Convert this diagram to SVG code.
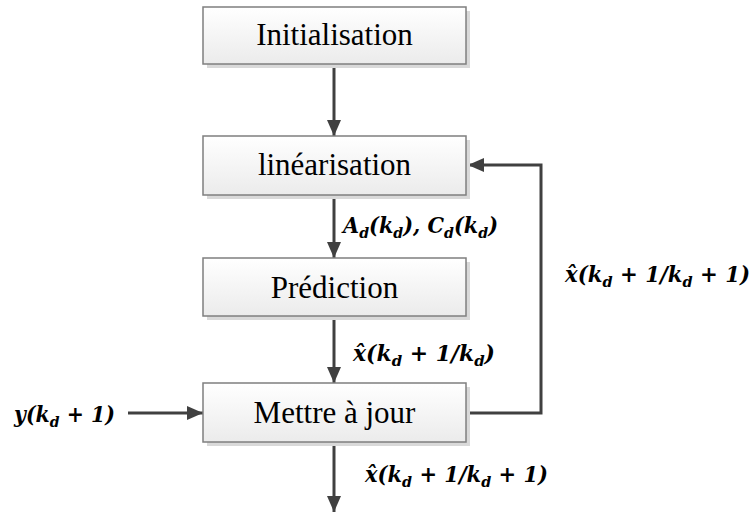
<svg xmlns="http://www.w3.org/2000/svg" width="754" height="516" viewBox="0 0 754 516">
  <defs>
    <linearGradient id="boxFill" x1="0" y1="0" x2="0" y2="1">
      <stop offset="0" stop-color="#ffffff"/>
      <stop offset="1" stop-color="#ebebeb"/>
    </linearGradient>
    <marker id="arrow" viewBox="0 0 16 14" refX="16" refY="7" markerWidth="16" markerHeight="14" markerUnits="userSpaceOnUse" orient="auto">
      <path d="M0,0 L16,7 L0,14 Z" fill="#404040"/>
    </marker>
  </defs>
  <style>
    .shadow { fill: #d9d9d9; }
    .box { fill: url(#boxFill); stroke: #7f7f7f; stroke-width: 1.5; }
    .label { font-family: "Liberation Serif", serif; font-size: 31px; fill: #000; text-anchor: middle; }
    .math { font-family: "DejaVu Serif", serif; font-size: 22px; font-weight: bold; font-style: italic; fill: #000; }
    .sub { font-size: 15px; }
    .edge { fill: none; stroke: #404040; stroke-width: 3; }
  </style>
  <rect width="754" height="516" fill="#ffffff"/>

  <!-- connectors and their labels -->
  <g id="connectors">
    <path class="edge" d="M334,64 L334,136" marker-end="url(#arrow)"/>
    <path class="edge" d="M334,195 L334,258" marker-end="url(#arrow)"/>
    <path class="edge" d="M334,316 L334,383" marker-end="url(#arrow)"/>
    <path class="edge" d="M334,442 L334,512" marker-end="url(#arrow)"/>
    <path class="edge" d="M128,413 L203,413" marker-end="url(#arrow)"/>
    <path class="edge" d="M470,413 L541,413 L541,165 L468,165" marker-end="url(#arrow)"/>

    <text class="math" x="343" y="233" textLength="155" lengthAdjust="spacingAndGlyphs">A<tspan class="sub" dy="5">d</tspan><tspan dy="-5">(k</tspan><tspan class="sub" dy="5">d</tspan><tspan dy="-5">), C</tspan><tspan class="sub" dy="5">d</tspan><tspan dy="-5">(k</tspan><tspan class="sub" dy="5">d</tspan><tspan dy="-5">)</tspan></text>
    <text class="math" x="353" y="361" textLength="142" lengthAdjust="spacingAndGlyphs">x̂(k<tspan class="sub" dy="5">d</tspan><tspan dy="-5"> + 1/k</tspan><tspan class="sub" dy="5">d</tspan><tspan dy="-5">)</tspan></text>
    <text class="math" x="365" y="482" textLength="183" lengthAdjust="spacingAndGlyphs">x̂(k<tspan class="sub" dy="5">d</tspan><tspan dy="-5"> + 1/k</tspan><tspan class="sub" dy="5">d</tspan><tspan dy="-5"> + 1)</tspan></text>
    <text class="math" x="565" y="282" textLength="185" lengthAdjust="spacingAndGlyphs">x̂(k<tspan class="sub" dy="5">d</tspan><tspan dy="-5"> + 1/k</tspan><tspan class="sub" dy="5">d</tspan><tspan dy="-5"> + 1)</tspan></text>
    <text class="math" x="14" y="422" textLength="101" lengthAdjust="spacingAndGlyphs">y(k<tspan class="sub" dy="5">d</tspan><tspan dy="-5"> + 1)</tspan></text>
  </g>

  <!-- process steps -->
  <g id="init">
    <rect class="shadow" x="207" y="11" width="263" height="57"/>
    <rect class="box" x="203" y="7" width="263" height="57"/>
    <text class="label" x="334.5" y="45">Initialisation</text>
  </g>
  <g id="linearisation">
    <rect class="shadow" x="207" y="140" width="263" height="59"/>
    <rect class="box" x="203" y="136" width="263" height="59"/>
    <text class="label" x="334.5" y="175">linéarisation</text>
  </g>
  <g id="prediction">
    <rect class="shadow" x="207" y="262" width="263" height="58"/>
    <rect class="box" x="203" y="258" width="263" height="58"/>
    <text class="label" x="334.5" y="298">Prédiction</text>
  </g>
  <g id="update">
    <rect class="shadow" x="207" y="387" width="263" height="59"/>
    <rect class="box" x="203" y="383" width="263" height="59"/>
    <text class="label" x="334.5" y="423">Mettre à jour</text>
  </g>
</svg>
